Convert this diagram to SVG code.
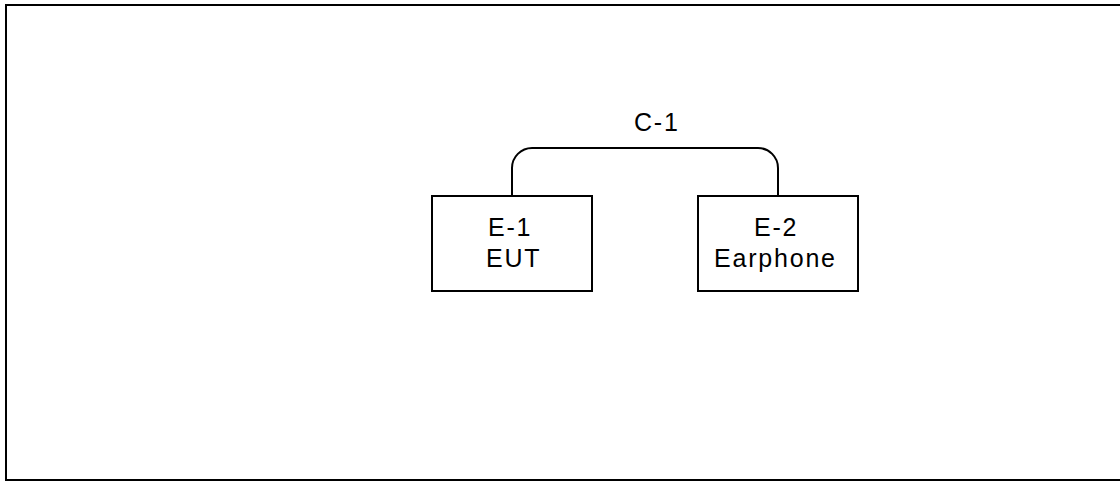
<svg xmlns="http://www.w3.org/2000/svg" width="1120" height="482" viewBox="0 0 1120 482">
<style>
.box{fill:#fff;stroke:#000;stroke-width:2}
.t{font-family:"Liberation Sans",Arial,sans-serif;font-size:25px;letter-spacing:1.8px;fill:#000}
.wire{fill:none;stroke:#000;stroke-width:2}
</style>
<rect x="6" y="5" width="1130" height="475" fill="#fff" stroke="#000" stroke-width="2"/>
<g id="connectors">
<path class="wire" d="M512,196 V168 A20,20 0 0 1 532,148 H758 A20,20 0 0 1 778,168 V196"/>
<text class="t" x="634" y="131">C-1</text>
</g>
<g id="E-1">
<rect class="box" x="432" y="196" width="160" height="95"/>
<text class="t" x="488" y="236">E-1</text>
<text class="t" x="486" y="267">EUT</text>
</g>
<g id="E-2">
<rect class="box" x="698" y="196" width="160" height="95"/>
<text class="t" x="754" y="236">E-2</text>
<text class="t" x="714" y="267">Earphone</text>
</g>
</svg>
